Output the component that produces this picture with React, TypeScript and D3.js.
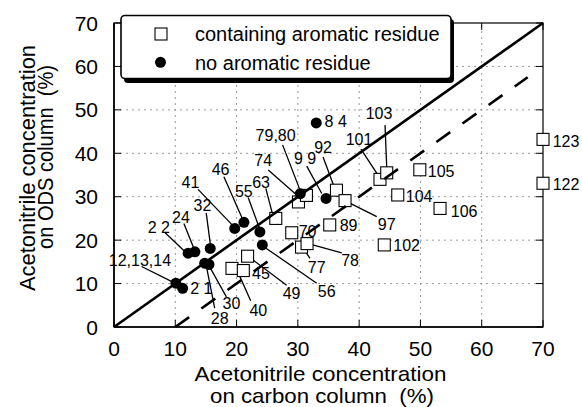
import React from "react";
import * as d3 from "d3";

// ---- data ----
const aromaticIds = ["40", "45", "49", "63", "70", "74", "80", "77", "78", "89", "92", "97", "101", "103", "104", "105", "106", "102", "122", "123"];
const aromaticX = [19.25, 21.1, 21.8, 26.4, 29.0, 30.1, 31.4, 30.6, 31.5, 35.2, 36.3, 37.7, 43.4, 44.5, 46.3, 49.9, 53.2, 44.1, 70, 70];
const aromaticY = [13.5, 13.0, 16.3, 25.0, 21.7, 28.8, 30.3, 18.4, 19.2, 23.5, 31.5, 29.1, 34.0, 35.5, 30.4, 36.2, 27.3, 18.9, 33.1, 43.2];

const plainIds = ["12,13,14", "21", "22", "24", "28", "30", "32", "41", "46", "55", "56", "79", "99", "84"];
const plainX = [10.1, 11.2, 12.1, 13.2, 14.8, 15.5, 15.7, 19.7, 21.2, 23.8, 24.2, 30.4, 34.6, 33.0];
const plainY = [10.1, 8.9, 17.0, 17.3, 14.7, 14.4, 18.1, 22.7, 24.1, 21.9, 18.9, 30.7, 29.6, 47.0];

const xTicks = [0, 10, 20, 30, 40, 50, 60, 70];
const yTicks = [0, 10, 20, 30, 40, 50, 60, 70];

const identityLine = [[0, 0], [70, 70]];
const offsetLine = [[10, 0], [67.5, 57.5]];

const legendLabels = ["containing aromatic residue", "no aromatic residue"];
const xTitle = ["Acetonitrile concentration", "on carbon column  (%)"];
const yTitle = ["Acetonitrile concentration", "on ODS column  (%)"];

// ---- annotation layout (pixel offsets from the marker) ----
type Lab = { id: string; text: string; dx: number; dy: number; anchor?: string; line?: number[] };
const labelLayout: Lab[] = [
  { id: "12,13,14", text: "12,13,14", dx: -36, dy: -23.3, line: [-34.3, -16.6, -3, -1] },
  { id: "21", text: "2 1", dx: 7.5, dy: 0, anchor: "start" },
  { id: "22", text: "2 2", dx: -29.3, dy: -26, line: [-23.3, -20.6, -3.3, -1.6] },
  { id: "24", text: "24", dx: -14, dy: -34.4, line: [-11, -28.4, -1, -3.4] },
  { id: "32", text: "32", dx: -7.7, dy: -43.3, line: [-4, -35.6, 0, -5] },
  { id: "28", text: "28", dx: 15, dy: 55, line: [10, 45, 2, 4.7] },
  { id: "30", text: "30", dx: 22.4, dy: 39, line: [17.4, 32.4, 0.7, 2.4] },
  { id: "41", text: "41", dx: -44.3, dy: -46.6, line: [-36.7, -39, -2.3, -3.3] },
  { id: "46", text: "46", dx: -23.3, dy: -53.3, line: [-20, -45.6, -1.3, -3] },
  { id: "55", text: "55", dx: -16, dy: -41, line: [-11.7, -34.4, -0.7, -4.4] },
  { id: "56", text: "56", dx: 64.4, dy: 46.7, line: [54.4, 38.3, 0.4, 1] },
  { id: "79", text: "79,80", dx: -24.7, dy: -58.8, line: [-17.7, -48.8, -0.4, -3.8] },
  { id: "99", text: "9 9", dx: -21, dy: -40, line: [-19.3, -32.3, -4.3, -5] },
  { id: "84", text: "8 4", dx: 8.3, dy: -1.2, anchor: "start" },
  { id: "40", text: "40", dx: 26.3, dy: 41.7, line: [18.7, 32.4, 4.7, 1] },
  { id: "45", text: "45", dx: 8.7, dy: 2.6, anchor: "start" },
  { id: "49", text: "49", dx: 44, dy: 36.7, line: [39, 29, 3, 2] },
  { id: "63", text: "63", dx: -14.7, dy: -36.6, line: [-10, -30, -3, -3.3] },
  { id: "70", text: "70", dx: 15.8, dy: -1.2 },
  { id: "74", text: "74", dx: -35.2, dy: -42, line: [-30.2, -32, -1.8, -7] },
  { id: "77", text: "77", dx: 15.2, dy: 19.7, line: [8.5, 11.3, 0.2, -1] },
  { id: "78", text: "78", dx: 43, dy: 16.5, line: [34.7, 9.2, 3, 0.5] },
  { id: "89", text: "89", dx: 10, dy: 0.7, anchor: "start" },
  { id: "92", text: "92", dx: -13.4, dy: -42.7, line: [-13.4, -33.3, -1.7, -1.7] },
  { id: "97", text: "97", dx: 41.7, dy: 23.6, line: [31.7, 16, 1.7, 1] },
  { id: "101", text: "101", dx: -21, dy: -40.3, line: [-19, -30.3, -2, -4.3] },
  { id: "103", text: "103", dx: -7.7, dy: -60, line: [-1.7, -47.7, 0, -5.7] },
  { id: "104", text: "104", dx: 8, dy: 1, anchor: "start" },
  { id: "105", text: "105", dx: 8, dy: 1.7, anchor: "start" },
  { id: "106", text: "106", dx: 10.7, dy: 2.4, anchor: "start" },
  { id: "102", text: "102", dx: 9, dy: 0, anchor: "start" },
  { id: "123", text: "123", dx: 9.7, dy: 1.4, anchor: "start" },
  { id: "122", text: "122", dx: 9.7, dy: 1, anchor: "start" },
];

const FONT = "'Liberation Sans', Arial, Helvetica, sans-serif";

export default function App() {
  const W = 582, H = 407;
  const x = d3.scaleLinear().domain([0, 70]).range([114, 543]);
  const y = d3.scaleLinear().domain([0, 70]).range([327, 23]);
  const line = d3.line<number[]>().x((d) => x(d[0])).y((d) => y(d[1]));

  const squares = aromaticIds.map((id, i) => ({ id, px: x(aromaticX[i]), py: y(aromaticY[i]) }));
  const circles = plainIds.map((id, i) => ({ id, px: x(plainX[i]), py: y(plainY[i]) }));
  const pos: Record<string, { px: number; py: number }> = {};
  squares.forEach((s) => (pos[s.id] = s));
  circles.forEach((c) => (pos[c.id] = c));

  const sq = 12;
  const r = 5.5;
  const [x0, x1] = x.range();
  const [y0, y1] = y.range();

  return (
    <svg width={W} height={H} style={{ position: "absolute", left: 0, top: 0, background: "#fff" }} fontFamily={FONT}>
      <rect x={0} y={0} width={W} height={H} fill="#fff" />
      {/* grid */}
      {xTicks.slice(1, -1).map((t) => (
        <line key={"gx" + t} x1={x(t)} x2={x(t)} y1={y0} y2={y1} stroke="#9a9a9a" strokeWidth={1} strokeDasharray="2 4" />
      ))}
      {yTicks.slice(1, -1).map((t) => (
        <line key={"gy" + t} x1={x0} x2={x1} y1={y(t)} y2={y(t)} stroke="#9a9a9a" strokeWidth={1} strokeDasharray="2 4" />
      ))}
      {/* ticks inward */}
      {xTicks.map((t) => (
        <g key={"tx" + t}>
          <line x1={x(t)} x2={x(t)} y1={y0} y2={y0 - 7} stroke="#000" strokeWidth={1} />
          <line x1={x(t)} x2={x(t)} y1={y1} y2={y1 + 7} stroke="#000" strokeWidth={1} />
          <text x={x(t)} y={355.5} textAnchor="middle" fontSize={21} fill="#000">{t}</text>
        </g>
      ))}
      {yTicks.map((t) => (
        <g key={"ty" + t}>
          <line x1={x0} x2={x0 + 7} y1={y(t)} y2={y(t)} stroke="#000" strokeWidth={1} />
          <line x1={x1} x2={x1 - 7} y1={y(t)} y2={y(t)} stroke="#000" strokeWidth={1} />
          <text x={98} y={y(t) + 7.5} textAnchor="end" fontSize={21} fill="#000">{t}</text>
        </g>
      ))}
      {/* frame */}
      <rect x={x0} y={y1} width={x1 - x0} height={y0 - y1} fill="none" stroke="#000" strokeWidth={1.2} />
      <line x1={x0} x2={x1} y1={y0} y2={y0} stroke="#000" strokeWidth={1.6} />
      <line x1={x0} x2={x0} y1={y0} y2={y1} stroke="#000" strokeWidth={1.6} />

      {/* leader lines */}
      {labelLayout.filter((l) => l.line).map((l) => {
        const p = pos[l.id];
        const [a, b, c, d] = l.line as number[];
        return <line key={"ll" + l.id} x1={p.px + a} y1={p.py + b} x2={p.px + c} y2={p.py + d} stroke="#000" strokeWidth={1.3} />;
      })}

      {/* markers */}
      {squares.map((s) => (
        <rect key={"s" + s.id} x={s.px - sq / 2} y={s.py - sq / 2} width={sq} height={sq} fill="#fff" stroke="#000" strokeWidth={1.1} />
      ))}
      {circles.map((c) => (
        <circle key={"c" + c.id} cx={c.px} cy={c.py} r={r} fill="#000" />
      ))}

      {/* reference lines */}
      <path d={line(identityLine as any) as string} stroke="#000" strokeWidth={2.6} fill="none" />
      <path d={line(offsetLine as any) as string} stroke="#000" strokeWidth={2.6} fill="none" strokeDasharray="17 15" />

      {/* labels */}
      {labelLayout.map((l) => {
        const p = pos[l.id];
        return (
          <text key={"t" + l.id} x={p.px + l.dx} y={p.py + l.dy} dy="0.36em" textAnchor={l.anchor || "middle"} fontSize={16} fill="#000">
            {l.text}
          </text>
        );
      })}

      {/* legend */}
      <rect x={124} y={19} width={330} height={64} rx={4} fill="#000" />
      <rect x={121} y={15.5} width={330} height={63} rx={4} fill="#fff" stroke="#000" strokeWidth={1.6} />
      <rect x={155} y={28} width={12} height={12} fill="#fff" stroke="#000" strokeWidth={1.1} />
      <text x={195} y={34} dy="0.36em" fontSize={20} fill="#000">{legendLabels[0]}</text>
      <circle cx={160.5} cy={62.3} r={5.5} fill="#000" />
      <text x={195} y={62.3} dy="0.36em" fontSize={20} fill="#000">{legendLabels[1]}</text>

      {/* axis titles */}
      <text x={320.5} y={381} textAnchor="middle" fontSize={21} fill="#000" textLength={252} lengthAdjust="spacingAndGlyphs">{xTitle[0]}</text>
      <text x={322} y={403} textAnchor="middle" fontSize={21} fill="#000" style={{ whiteSpace: "pre" }} textLength={224} lengthAdjust="spacingAndGlyphs">{xTitle[1]}</text>
      <text transform="translate(35,168) rotate(-90)" textAnchor="middle" fontSize={22} fill="#000" textLength={246} lengthAdjust="spacingAndGlyphs">{yTitle[0]}</text>
      <text transform="translate(53,157) rotate(-90)" textAnchor="middle" fontSize={22} fill="#000" style={{ whiteSpace: "pre" }} textLength={184} lengthAdjust="spacingAndGlyphs">{yTitle[1]}</text>
    </svg>
  );
}
